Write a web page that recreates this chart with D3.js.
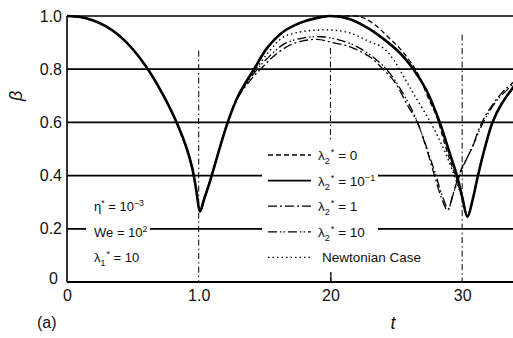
<!DOCTYPE html>
<html>
<head>
<meta charset="utf-8">
<script src="https://cdn.jsdelivr.net/npm/d3@7"></script>
<style>
  body { margin: 0; background: #fff; }
  text { font-family: "Liberation Sans", Arial, sans-serif; fill: #111; }
</style>
</head>
<body>
<div id="chart"></div>
<script>
// axis ticks and labels
const tauTicks = [0, 10, 20, 30];
const tauTickLabels = ["0", "1.0", "20", "30"];
const betaTicks = [0, 0.2, 0.4, 0.6, 0.8, 1.0];
const betaTickLabels = ["0", "0.2", "0.4", "0.6", "0.8", "1.0"];

// first lobe is shared by every curve
const lobe1 = [[0,1.0],[1,0.996],[2,0.983],[3,0.96],[4,0.925],[5,0.875],[6,0.81],[7,0.73],[8,0.635],
  [9,0.515],[9.5,0.43],[9.8,0.35],[10.1,0.265],[10.4,0.31],[10.8,0.37],[11.1,0.42],[12.2,0.6]];

// lambda2* = 0  (dashed)
const lam0 = [...lobe1, [13,0.7],[14.2,0.8],[15.2,0.88],[16.4,0.94],[17.7,0.975],[19,0.994],[20.5,1.0],
  [22.4,0.995],[23.4,0.966],[24.4,0.92],[25.5,0.865],[26.6,0.786],[27.4,0.695],[28.1,0.617],[28.7,0.515],
  [29.2,0.44],[29.7,0.37],[30.1,0.3],[30.4,0.25],[30.8,0.31],[31.2,0.4],[31.7,0.5],[32.3,0.6],[33,0.67],[34,0.74]];

// lambda2* = 10^-1  (heavy solid)
const lamTenth = [...lobe1, [13,0.7],[14.2,0.8],[15.2,0.88],[16.4,0.94],[17.7,0.974],[19,0.993],[20,1.0],
  [21.5,0.988],[23,0.95],[24,0.915],[25.3,0.86],[26.3,0.8],[27.3,0.72],[28.3,0.6],[28.95,0.5],[29.6,0.4],
  [30.0,0.32],[30.4,0.245],[30.8,0.31],[31.2,0.4],[31.7,0.5],[32.3,0.6],[33.0,0.67],[34,0.74]];

// lambda2* = 1  (dash-dot)
const lam1 = [...lobe1, [13,0.695],[14.2,0.775],[14.9,0.81],[15.6,0.845],[16.9,0.89],[18,0.907],[19,0.912],
  [20.2,0.9],[21.5,0.884],[23,0.846],[24,0.8],[24.9,0.75],[25.9,0.66],[26.6,0.6],[27.3,0.5],[27.9,0.4],
  [28.4,0.32],[28.9,0.27],[29.3,0.33],[29.9,0.42],[30.7,0.5],[31.5,0.6],[32.5,0.68],[33.4,0.73],[34,0.755]];

// lambda2* = 10  (dash-dot-dot)
const lam10 = [...lobe1, [13,0.697],[14.2,0.785],[15.2,0.84],[16.5,0.895],[18,0.918],[19.3,0.922],[20.5,0.912],
  [22,0.885],[23.5,0.835],[24.5,0.785],[25.5,0.71],[26.4,0.625],[27.2,0.52],[27.95,0.41],[28.45,0.33],[28.95,0.275],
  [29.35,0.335],[30.0,0.425],[30.8,0.51],[31.6,0.6],[32.6,0.68],[34,0.75]];

// Newtonian case  (dotted)
const newtonian = [...lobe1, [13,0.7],[14.2,0.79],[15.4,0.87],[16.4,0.92],[17.7,0.94],[19,0.947],[20.2,0.947],
  [21.5,0.936],[22.9,0.905],[24,0.88],[24.8,0.835],[25.7,0.76],[26.4,0.7],[27.6,0.6],[28.6,0.5],[29.4,0.4],
  [29.95,0.32],[30.4,0.25],[30.8,0.31],[31.2,0.4],[31.7,0.5],[32.3,0.6],[33,0.67],[34,0.74]];

const legendLabels = [
  [["λ"],["2","sub"],["*","sup",1],[" = 0"]],
  [["λ"],["2","sub"],["*","sup",1],[" = 10"],["−1","sup"]],
  [["λ"],["2","sub"],["*","sup",1],[" = 1"]],
  [["λ"],["2","sub"],["*","sup",1],[" = 10"]],
  [["Newtonian Case"]]
];
const paramLabels = [
  [["η"],["*","sup"],[" = 10"],["−3","sup"]],
  [["We = 10"],["2","sup"]],
  [["λ"],["1","sub"],["*","sup",1],[" = 10"]]
];

const series = [
  { data: lam0, dash: "5,3", w: 1.3 },
  { data: lamTenth, dash: null, w: 2.6 },
  { data: lam1, dash: "9,3,2,3", w: 1.3 },
  { data: lam10, dash: "9,3,1.5,2,1.5,3", w: 1.3 },
  { data: newtonian, dash: "1.5,3", w: 1.4 }
];

const W = 513, H = 338;
const svg = d3.select("#chart").append("svg")
    .attr("width", W)
    .attr("height", H);

const x = d3.scaleLinear().domain([0, 33.86]).range([67, 513]);
const y = d3.scaleLinear().domain([0, 1]).range([282, 16]);

svg.append("clipPath").attr("id", "plot")
  .append("rect").attr("x", x(0)).attr("y", 0).attr("width", W - x(0)).attr("height", y(0));

// horizontal grid lines
svg.append("g").selectAll("line")
  .data(betaTicks.filter(d => d > 0))
  .enter().append("line")
  .attr("x1", x(0)).attr("x2", W)
  .attr("y1", d => y(d)).attr("y2", d => y(d))
  .attr("stroke", "#000").attr("stroke-width", 1.7);

// vertical dash-dot guides
const guideTop = { 10: 0.87, 20: 0.88, 30: 0.93 };
svg.append("g").selectAll("line")
  .data([10, 20, 30])
  .enter().append("line")
  .attr("x1", d => x(d)).attr("x2", d => x(d))
  .attr("y1", d => y(guideTop[d])).attr("y2", y(0))
  .attr("stroke", "#000").attr("stroke-width", 1)
  .attr("stroke-dasharray", "6,3,1.5,3");

// curves
const line = d3.line()
  .x(d => x(d[0])).y(d => y(d[1]))
  .curve(d3.curveCatmullRom.alpha(0.5));

svg.append("g").attr("clip-path", "url(#plot)")
  .selectAll("path")
  .data(series)
  .enter().append("path")
  .attr("d", d => line(d.data))
  .attr("fill", "none")
  .attr("stroke", "#000")
  .attr("stroke-width", d => d.w)
  .attr("stroke-dasharray", d => d.dash)
  .attr("stroke-linejoin", "round");

// axes frame
svg.append("line").attr("x1", x(0)).attr("x2", x(0)).attr("y1", y(1)).attr("y2", y(0))
  .attr("stroke", "#000").attr("stroke-width", 1.6);
svg.append("line").attr("x1", x(0)).attr("x2", W).attr("y1", y(0)).attr("y2", y(0))
  .attr("stroke", "#000").attr("stroke-width", 1.8);

// tick labels
const xAxis = d3.axisBottom(x)
  .tickValues(tauTicks)
  .tickSize(0)
  .tickPadding(8)
  .tickFormat((d, i) => tauTickLabels[i]);
const gx = svg.append("g").attr("transform", `translate(0,${y(0)})`).call(xAxis);
gx.select(".domain").remove();
gx.selectAll("text").attr("font-size", 16).attr("font-family", "Liberation Sans, Arial, sans-serif");
gx.selectAll(".tick").filter(d => d === 20).append("line")
  .attr("y1", -10).attr("y2", 0).attr("stroke", "#000").attr("stroke-width", 1.2);

const yAxis = d3.axisLeft(y)
  .tickValues(betaTicks)
  .tickSize(0)
  .tickPadding(5)
  .tickFormat((d, i) => betaTickLabels[i]);
const gy = svg.append("g").attr("transform", `translate(${x(0)},0)`).call(yAxis);
gy.select(".domain").remove();
gy.selectAll("text").attr("font-size", 16).attr("font-family", "Liberation Sans, Arial, sans-serif");
gy.selectAll(".tick").filter(d => d === 0).select("text").attr("dx", -4).attr("dy", "0.1em");

// helper for sub/superscripts
function rich(textSel, parts) {
  let shift = 0;
  parts.forEach(([s, kind, dx]) => {
    const target = kind === "sup" ? -5 : kind === "sub" ? 4 : 0;
    const ts = textSel.append("tspan").attr("dy", target - shift).text(s);
    if (kind) ts.attr("font-size", "0.68em");
    if (dx) ts.attr("dx", dx);
    shift = target;
  });
}

// legend
const rowY = i => 155 + i * 25.6;
const lg = svg.append("g");
lg.append("rect").attr("x", 262).attr("y", 142).attr("width", 116).attr("height", 128).attr("fill", "#fff");
series.forEach((s, i) => {
  lg.append("line")
    .attr("x1", 268).attr("x2", 311)
    .attr("y1", rowY(i)).attr("y2", rowY(i))
    .attr("stroke", "#000")
    .attr("stroke-width", i === 1 ? 1.6 : 1.3)
    .attr("stroke-dasharray", s.dash);
  const t = lg.append("text")
    .attr("x", i === 4 ? 322 : 318)
    .attr("y", rowY(i) + 5)
    .attr("font-size", 13.5);
  rich(t, legendLabels[i]);
});

// parameter block
const pg = svg.append("g");
pg.append("rect").attr("x", 86).attr("y", 220).attr("width", 64).attr("height", 20).attr("fill", "#fff");
paramLabels.forEach((p, i) => {
  const t = pg.append("text")
    .attr("x", 94)
    .attr("y", rowY(i + 2) + 5)
    .attr("font-size", 13);
  rich(t, p);
});

// axis titles
svg.append("text")
  .attr("transform", `translate(22,${y(0.7)}) rotate(-90)`)
  .attr("text-anchor", "middle")
  .attr("font-family", "DejaVu Serif, serif")
  .attr("font-style", "italic")
  .attr("font-size", 18)
  .text("β");
svg.append("text")
  .attr("x", 393).attr("y", 329)
  .attr("text-anchor", "middle")
  .attr("font-family", "DejaVu Serif, serif")
  .attr("font-style", "italic")
  .attr("font-size", 18)
  .text("t");
svg.append("text")
  .attr("x", 37).attr("y", 328)
  .attr("font-size", 16)
  .text("(a)");
</script>
</body>
</html>
